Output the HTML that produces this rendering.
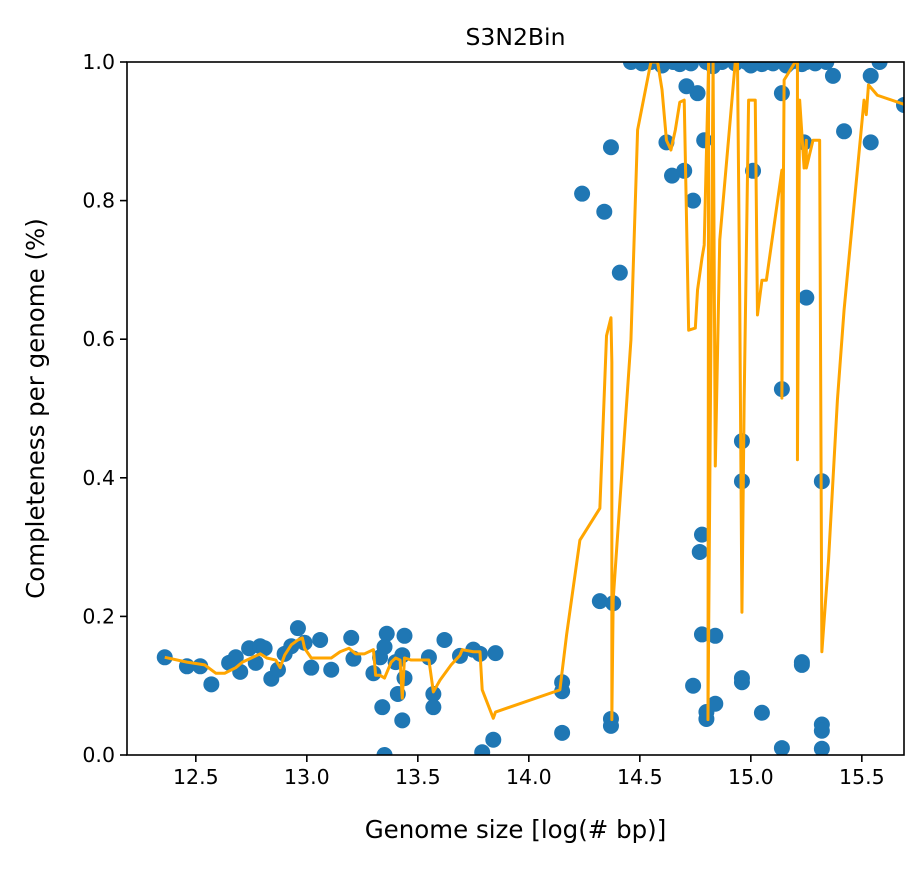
<!DOCTYPE html>
<html><head><meta charset="utf-8"><style>
body{margin:0;background:#fff;font-family:"Liberation Sans","DejaVu Sans",sans-serif}
svg text{font-family:"DejaVu Sans","Liberation Sans",sans-serif}
</style></head><body>
<svg id="chart" width="922" height="867" xmlns="http://www.w3.org/2000/svg">
<rect width="922" height="867" fill="#fff"/>
<g id="plot"></g>
</svg>
<script>
const xTicks=[12.5,13.0,13.5,14.0,14.5,15.0,15.5];
const yTicks=[0.0,0.2,0.4,0.6,0.8,1.0];
const ptX=[12.36,12.46,12.52,12.57,12.65,12.68,12.70,12.74,12.77,12.79,12.81,12.84,12.87,12.90,12.93,12.96,12.99,13.02,13.06,13.11,13.20,13.21,13.30,13.33,13.34,13.35,13.36,13.35,13.40,13.41,13.43,13.43,13.44,13.44,13.57,13.57,13.55,13.62,13.69,13.75,13.78,13.79,13.84,13.85,14.15,14.15,14.15,14.24,14.32,14.34,14.37,14.38,14.37,14.37,14.41,
14.62,14.645,14.70,14.71,14.76,14.74,14.79,15.01,15.14,15.24,15.37,15.42,15.54,15.54,15.69,15.25,15.14,
14.77,14.78,14.96,14.96,15.32,14.78,14.84,14.74,14.80,14.80,14.84,14.96,14.96,15.05,15.14,15.23,15.23,15.32,15.32,15.32,
14.46,14.51,14.55,14.60,14.65,14.68,14.73,14.80,14.83,14.87,14.93,14.98,15.00,15.02,15.05,15.07,15.10,15.16,15.18,15.23,15.25,15.29,15.34,15.58];
const ptY=[0.141,0.128,0.128,0.102,0.133,0.141,0.120,0.154,0.133,0.157,0.154,0.110,0.123,0.146,0.157,0.183,0.162,0.126,0.166,0.123,0.169,0.139,0.118,0.141,0.069,0.0,0.175,0.156,0.134,0.088,0.050,0.144,0.111,0.172,0.088,0.069,0.141,0.166,0.143,0.152,0.146,0.004,0.022,0.147,0.105,0.092,0.032,0.810,0.222,0.784,0.877,0.219,0.052,0.042,0.696,
0.884,0.836,0.843,0.965,0.955,0.800,0.887,0.843,0.955,0.884,0.980,0.900,0.980,0.884,0.938,0.660,0.528,
0.293,0.318,0.453,0.395,0.395,0.174,0.172,0.100,0.062,0.052,0.074,0.111,0.105,0.061,0.010,0.134,0.130,0.044,0.035,0.009,
1.0,0.998,1.0,0.995,1.0,0.997,0.998,1.0,0.994,1.0,0.998,1.0,0.995,1.0,0.997,1.0,0.998,0.995,1.0,0.997,1.0,0.998,1.0,1.0];
const lnX=[12.36,12.46,12.54,12.59,12.63,12.68,12.71,12.75,12.79,12.82,12.86,12.88,12.90,12.93,12.96,12.98,12.99,13.02,13.06,13.11,13.15,13.19,13.22,13.26,13.30,13.31,13.33,13.35,13.38,13.40,13.42,13.43,13.44,13.47,13.55,13.57,13.60,13.65,13.69,13.70,13.75,13.78,13.79,13.84,13.85,14.14,14.17,14.23,14.32,14.35,14.37,14.374,14.374,14.38,14.46,14.49,14.55,14.58,14.60,14.62,14.64,14.66,14.68,14.70,14.72,14.75,14.76,14.78,14.79,14.81,14.807,14.83,14.84,14.86,14.93,14.94,14.95,14.96,14.97,14.99,15.02,15.03,15.05,15.07,15.14,15.14,15.15,15.20,15.21,15.21,15.22,15.24,15.25,15.25,15.28,15.29,15.31,15.32,15.35,15.39,15.42,15.51,15.52,15.53,15.57,15.69];
const lnY=[0.141,0.134,0.130,0.118,0.118,0.126,0.134,0.140,0.146,0.140,0.137,0.126,0.144,0.159,0.166,0.169,0.154,0.140,0.140,0.140,0.149,0.154,0.146,0.146,0.152,0.115,0.115,0.111,0.134,0.140,0.137,0.082,0.140,0.137,0.137,0.091,0.108,0.130,0.144,0.152,0.149,0.149,0.094,0.053,0.062,0.094,0.173,0.310,0.356,0.605,0.631,0.567,0.051,0.224,0.599,0.902,1.0,1.0,0.960,0.887,0.873,0.902,0.942,0.945,0.613,0.616,0.671,0.717,0.736,1.0,0.051,1.0,0.417,0.743,1.0,1.0,0.657,0.206,0.512,0.945,0.945,0.635,0.685,0.685,0.844,0.515,0.974,1.0,1.0,0.426,0.945,0.847,0.887,0.847,0.887,0.887,0.887,0.149,0.281,0.512,0.642,0.945,0.924,0.967,0.952,0.939];
const L=127,R=904,T=62,B=755,X0=12.19,X1=15.69,Y0=0,Y1=1;
const sx=v=>L+(v-X0)/(X1-X0)*(R-L);
const sy=v=>B-(v-Y0)/(Y1-Y0)*(B-T);
const NS='http://www.w3.org/2000/svg';
const svg=document.getElementById('chart'), g=document.getElementById('plot');
function mk(t,a,p){const e=document.createElementNS(NS,t);for(const k in a)e.setAttribute(k,a[k]);(p||svg).appendChild(e);return e;}
const defs=mk('defs',{});const cp=mk('clipPath',{id:'c'},defs);mk('rect',{x:L,y:T,width:R-L,height:B-T},cp);
const pts=mk('g',{'clip-path':'url(#c)'},g);


for(let i=0;i<ptX.length;i++){const c=mk('circle',{cx:sx(ptX[i]),cy:sy(ptY[i]),r:8,fill:'#1f77b4'},pts);

}
const lg=mk('g',{'clip-path':'url(#c)'},g);
const line=mk('polyline',{points:lnX.map((x,i)=>sx(x)+','+sy(lnY[i])).join(' '),fill:'none',stroke:'#ffa500','stroke-width':3,'stroke-linejoin':'round'},lg);


const fr=mk('rect',{x:L,y:T,width:R-L,height:B-T,fill:'none',stroke:'#000','stroke-width':1.6});


xTicks.forEach(v=>{mk('line',{x1:sx(v),x2:sx(v),y1:B,y2:B+7,stroke:'#000','stroke-width':1.6});
const t=mk('text',{x:sx(v),y:B+29,'text-anchor':'middle','font-size':20.5});t.textContent=v.toFixed(1);

});
yTicks.forEach(v=>{mk('line',{x1:L-7,x2:L,y1:sy(v),y2:sy(v),stroke:'#000','stroke-width':1.6});
const t=mk('text',{x:L-12,y:sy(v)+7,'text-anchor':'end','font-size':20.5});t.textContent=v.toFixed(1);

});
let t=mk('text',{x:(L+R)/2,y:45,'text-anchor':'middle','font-size':23.5});t.textContent='S3N2Bin';


t=mk('text',{x:(L+R)/2,y:838,'text-anchor':'middle','font-size':24.5});t.textContent='Genome size [log(# bp)]';


t=mk('text',{x:0,y:0,'text-anchor':'middle','font-size':24.5,transform:'translate(44,'+((T+B)/2)+') rotate(-90)'});t.textContent='Completeness per genome (%)';


</script>
</body></html>
